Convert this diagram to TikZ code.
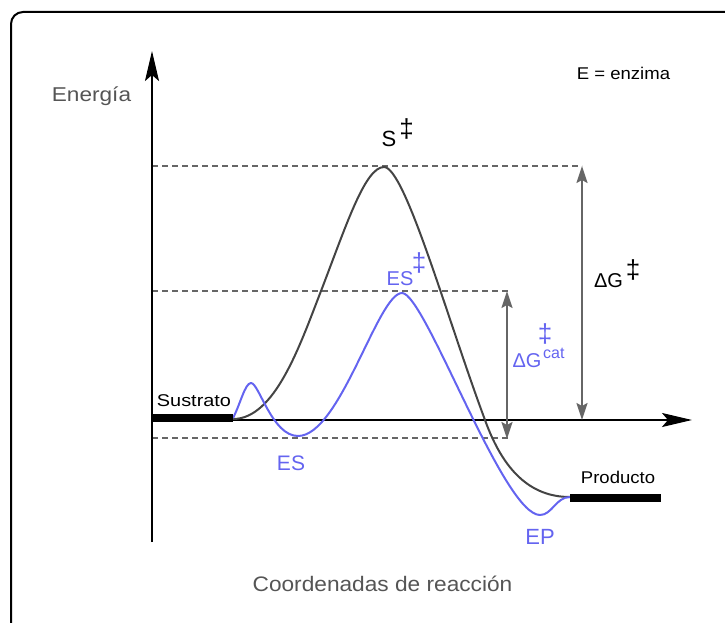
\documentclass[tikz,border=0pt]{standalone}
\usepackage{fontspec}
\setmainfont{Liberation Sans}
\usetikzlibrary{arrows.meta}
\definecolor{curvegray}{HTML}{444444}
\definecolor{enzblue}{HTML}{6464F0}
\definecolor{dashgray}{HTML}{666666}
\definecolor{txtgray}{HTML}{555555}
\newcommand\fsz[1]{\fontsize{#1}{#1}\selectfont}
\begin{document}
\begin{tikzpicture}[x=1pt,y=-1pt,
  lbl/.style={inner sep=0pt, anchor=base},
  dag/.style={inner sep=0pt, font=\fsz{26}},
  axisline/.style={line width=2pt, -{Stealth[length=30pt,width=14pt,inset=6pt]}},
  guide/.style={dashgray, line width=1.5pt, dash pattern=on 6pt off 4pt},
  dimarrow/.style={dashgray, line width=2pt, {Stealth[length=17pt,width=11pt,inset=3pt]}-{Stealth[length=17pt,width=11pt,inset=3pt]}},
  levelbar/.style={line width=8pt},
  profile/.style={line width=2pt, line join=round},
]
\useasboundingbox (0,0) rectangle (725,623);
\clip (0,0) rectangle (725,623);
\draw[line width=2pt, rounded corners=12pt] (11,12) rectangle (760,660);

% coordinates
\coordinate (ybot) at (152,542);
\coordinate (ytip) at (152,51);
\coordinate (O) at (152,420);
\coordinate (xtip) at (692,420);
\coordinate (topL) at (152,166);
\coordinate (topR) at (582,166);
\coordinate (midL) at (152,291);
\coordinate (midR) at (508,291);
\coordinate (lowL) at (152,438);
\coordinate (lowR) at (510,438);
\coordinate (dgTop) at (582,166);
\coordinate (dgBot) at (582,420);
\coordinate (dcTop) at (507,291);
\coordinate (dcBot) at (507,439);
\coordinate (subL) at (152,417.5);
\coordinate (subR) at (233,417.5);
\coordinate (proL) at (570,498);
\coordinate (proR) at (661,498);

% guides
\draw[guide] (topL) -- (topR);
\draw[guide] (midL) -- (midR);
\draw[guide] (lowL) -- (lowR);

% axes
\draw[axisline] (ybot) -- (ytip);
\draw[axisline] (O) -- (xtip);

% dimension arrows
\draw[dimarrow] (dgTop) -- (dgBot);
\draw[dimarrow] (dcTop) -- (dcBot);

% profiles
\draw[profile, curvegray] (233,419) .. controls (275,419) and (300,345) .. (321,291)
  .. controls (346,226) and (365,167) .. (384,167)
  .. controls (405,167) and (448,321) .. (485,420)
  .. controls (503,470) and (530,497) .. (570,497);
\draw[profile, enzblue] (233,418) .. controls (240,405) and (245,383) .. (251,383)
  .. controls (259,383) and (272,436) .. (298,436)
  .. controls (340,436) and (378,293) .. (402,293)
  .. controls (425,293) and (503,515) .. (540,515)
  .. controls (552,515) and (556,497) .. (570,497);

% levels
\draw[levelbar] (subL) -- (subR);
\draw[levelbar] (proL) -- (proR);

% labels
\node[lbl, txtgray, font=\fsz{20}] (energia) at (91.5,102) {\scalebox{1.13}[1]{Energía}};
\node[lbl, txtgray, font=\fsz{21}] (coord) at (382.5,591) {\scalebox{1.08}[1]{Coordenadas de reacción}};
\node[lbl, font=\fsz{17}] (enz) at (623.5,80) {\scalebox{1.09}[1]{E = enzima}};
\node[lbl, font=\fsz{17}] (sustrato) at (194,406) {\scalebox{1.17}[1]{Sustrato}};
\node[lbl, font=\fsz{17}] (producto) at (618,483) {\scalebox{1.09}[1]{Producto}};

\node[lbl, font=\fsz{22}] (S) at (389,146.5) {S};
\node[dag, anchor=north] (Sdag) at (406.5,118) {‡};

\node[lbl, enzblue, font=\fsz{20}] (ESt) at (400,285) {ES};
\node[dag, enzblue, anchor=north] (ESdag) at (419,252) {‡};

\node[lbl, font=\fsz{20}] (dG) at (608.5,287) {ΔG};
\node[dag, anchor=north] (dGdag) at (633,259) {‡};

\node[lbl, enzblue, font=\fsz{20}] (dGc) at (527,367) {ΔG};
\node[inner sep=0pt, anchor=base west, enzblue, font=\fsz{16}] (cat) at (543,358) {cat};
\node[dag, enzblue, anchor=south] (dGcdag) at (545,344) {‡};

\node[lbl, enzblue, font=\fsz{21}] (ES) at (291,470) {ES};
\node[lbl, enzblue, font=\fsz{22}] (EP) at (540,544) {EP};
\end{tikzpicture}
\end{document}
